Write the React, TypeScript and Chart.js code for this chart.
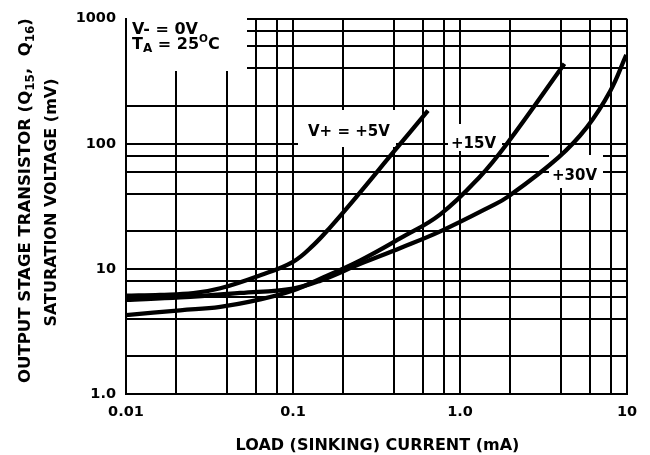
import React, { useEffect, useRef } from 'react';
import { Chart, registerables } from 'chart.js';

Chart.register(...registerables);

// ---------- data ----------
const X_DECADES = [0.01, 0.1, 1, 10];
const X_TICK_LABELS = ['0.01', '0.1', '1.0', '10'];
const Y_DECADES = [1, 10, 100, 1000];
const Y_TICK_LABELS = ['1.0', '10', '100', '1000'];
const GRID_MULTIPLIERS = [1, 2, 4, 6, 8];

// V+ = +5V
const V5_CURRENT = [0.01, 0.016, 0.0253, 0.0367, 0.0637, 0.1, 0.1325, 0.167, 0.241, 0.4, 0.643];
const V5_VOLTAGE = [6.1, 6.2, 6.4, 7.0, 8.9, 11.4, 15.5, 21.5, 38.0, 86, 184];

// V+ = +15V
const V15_CURRENT = [0.01, 0.0211, 0.0367, 0.0637, 0.1, 0.146, 0.253, 0.44, 0.762, 1.32, 1.91, 4.22];
const V15_VOLTAGE = [4.27, 4.67, 4.98, 5.71, 6.72, 8.35, 11.7, 17.6, 27.3, 54.8, 100, 436];

// V+ = +30V
const V30_CURRENT = [0.01, 0.0211, 0.0483, 0.1, 0.146, 0.253, 0.44, 0.762, 1.52, 1.95, 3.89, 5.76, 7.94, 9.9];
const V30_VOLTAGE = [5.66, 5.92, 6.42, 6.97, 8.06, 10.97, 14.7, 19.95, 31.5, 38.0, 78, 136, 264, 514];

const SERIES_LABELS = ['V+ = +5V', '+15V', '+30V'];
const X_TITLE = 'LOAD (SINKING) CURRENT (mA)';

// ---------- helpers ----------
const FONT = '"DejaVu Sans", "Liberation Sans", Arial, sans-serif';

function gridValues(decades: number[]): number[] {
  const out: number[] = [];
  for (let i = 0; i < decades.length - 1; i++) {
    for (const m of GRID_MULTIPLIERS) out.push(+(decades[i] * m).toPrecision(6));
  }
  out.push(decades[decades.length - 1]);
  return out;
}

function labelFor(value: number, decades: number[], labels: string[]): string {
  const i = decades.findIndex((d) => Math.abs(d - value) < d * 1e-6);
  return i >= 0 ? labels[i] : '';
}

function toPoints(xs: number[], ys: number[]) {
  return xs.map((x, i) => ({ x, y: ys[i] }));
}

type Seg = { t: string; size: number; dy?: number };

function segsWidth(ctx: CanvasRenderingContext2D, segs: Seg[]) {
  let w = 0;
  for (const s of segs) {
    ctx.font = `bold ${s.size}px ${FONT}`;
    w += ctx.measureText(s.t).width;
  }
  return w;
}

function drawSegs(ctx: CanvasRenderingContext2D, segs: Seg[], x: number, y: number) {
  let cx = x;
  for (const s of segs) {
    ctx.font = `bold ${s.size}px ${FONT}`;
    ctx.fillText(s.t, cx, y + (s.dy || 0));
    cx += ctx.measureText(s.t).width;
  }
}

const annotatePlugin = {
  id: 'annotate',
  beforeDatasetsDraw(chart: any) {
    const ctx: CanvasRenderingContext2D = chart.ctx;
    ctx.save();
    // white label backgrounds that interrupt the grid
    ctx.fillStyle = '#fff';
    const boxes: [number, number, number, number][] = [
      [127, 15, 247, 71],
      [298, 110, 396, 147],
      [448, 124, 502, 151],
      [549, 155, 603, 188],
    ];
    for (const [x0, y0, x1, y1] of boxes) ctx.fillRect(x0, y0, x1 - x0, y1 - y0);

    ctx.fillStyle = '#000';
    ctx.textBaseline = 'alphabetic';
    ctx.textAlign = 'left';
    drawSegs(ctx, [{ t: 'V- = 0V', size: 16 }], 132, 33.5);
    drawSegs(
      ctx,
      [
        { t: 'T', size: 16 },
        { t: 'A', size: 12, dy: 3.5 },
        { t: ' = 25', size: 16 },
        { t: 'O', size: 10.5, dy: -6.5 },
        { t: 'C', size: 16 },
      ],
      132,
      48.5
    );
    drawSegs(ctx, [{ t: SERIES_LABELS[0], size: 15 }], 308, 135.5);
    drawSegs(ctx, [{ t: SERIES_LABELS[1], size: 15 }], 451, 147.5);
    drawSegs(ctx, [{ t: SERIES_LABELS[2], size: 15 }], 552, 180);
    ctx.restore();
  },
  afterDraw(chart: any) {
    const ctx: CanvasRenderingContext2D = chart.ctx;
    ctx.save();
    ctx.fillStyle = '#000';
    ctx.textBaseline = 'alphabetic';
    ctx.textAlign = 'left';
    // x title
    const xt: Seg[] = [{ t: X_TITLE, size: 16 }];
    drawSegs(ctx, xt, 377.5 - segsWidth(ctx, xt) / 2, 450);
    // y title (two lines, rotated)
    const l1: Seg[] = [
      { t: 'OUTPUT STAGE TRANSISTOR (Q', size: 16.5 },
      { t: '15', size: 12, dy: 4 },
      { t: ',  Q', size: 16.5 },
      { t: '16', size: 12, dy: 4 },
      { t: ')', size: 16.5 },
    ];
    const l2: Seg[] = [{ t: 'SATURATION VOLTAGE (mV)', size: 16 }];
    const lines: [Seg[], number, number][] = [
      [l1, 29.5, 200.5],
      [l2, 56, 202.5],
    ];
    for (const [segs, bx, cy] of lines) {
      ctx.save();
      ctx.translate(bx, cy);
      ctx.rotate(-Math.PI / 2);
      drawSegs(ctx, segs, -segsWidth(ctx, segs) / 2, 0);
      ctx.restore();
    }
    ctx.restore();
  },
};

export default function App() {
  const ref = useRef<HTMLCanvasElement>(null);

  useEffect(() => {
    if (!ref.current) return;
    const lineStyle = {
      borderColor: '#000',
      backgroundColor: '#000',
      borderWidth: 4.3,
      pointRadius: 0,
      tension: 0.4,
      fill: false,
      borderCapStyle: 'butt' as const,
    };
    const tickFont = { family: FONT, size: 14.5, weight: 'bold' as const };
    const chart = new Chart(ref.current, {
      type: 'line',
      data: {
        datasets: [
          { label: SERIES_LABELS[0], data: toPoints(V5_CURRENT, V5_VOLTAGE), ...lineStyle },
          { label: SERIES_LABELS[1], data: toPoints(V15_CURRENT, V15_VOLTAGE), ...lineStyle },
          { label: SERIES_LABELS[2], data: toPoints(V30_CURRENT, V30_VOLTAGE), ...lineStyle },
        ],
      },
      options: {
        responsive: false,
        animation: false,
        layout: { padding: { left: 0, top: 13, right: 23, bottom: 0 } },
        plugins: { legend: { display: false }, tooltip: { enabled: false }, title: { display: false } },
        scales: {
          x: {
            type: 'logarithmic',
            min: X_DECADES[0],
            max: X_DECADES[X_DECADES.length - 1],
            afterBuildTicks: (scale: any) => {
              scale.ticks = gridValues(X_DECADES).map((v) => ({ value: v }));
            },
            afterFit: (scale: any) => {
              scale.height = 61;
            },
            grid: { color: '#000', lineWidth: 2, drawTicks: false },
            border: { display: true, color: '#000', width: 2 },
            ticks: {
              autoSkip: false,
              maxRotation: 0,
              padding: 10,
              color: '#000',
              font: tickFont,
              callback: (v: any) => labelFor(Number(v), X_DECADES, X_TICK_LABELS),
            },
          },
          y: {
            type: 'logarithmic',
            min: Y_DECADES[0],
            max: Y_DECADES[Y_DECADES.length - 1],
            afterBuildTicks: (scale: any) => {
              scale.ticks = gridValues(Y_DECADES).map((v) => ({ value: v }));
            },
            afterFit: (scale: any) => {
              scale.width = 126;
            },
            grid: { color: '#000', lineWidth: 2, drawTicks: false },
            border: { display: true, color: '#000', width: 2 },
            ticks: {
              autoSkip: false,
              padding: 10,
              color: '#000',
              font: tickFont,
              callback: (v: any) => labelFor(Number(v), Y_DECADES, Y_TICK_LABELS),
            },
          },
        },
      },
      plugins: [annotatePlugin],
    } as any);
    return () => chart.destroy();
  }, []);

  return (
    <div style={{ position: 'fixed', left: 0, top: 0, width: 650, height: 455, background: '#fff' }}>
      <canvas ref={ref} width={650} height={455} style={{ display: 'block' }} />
    </div>
  );
}
